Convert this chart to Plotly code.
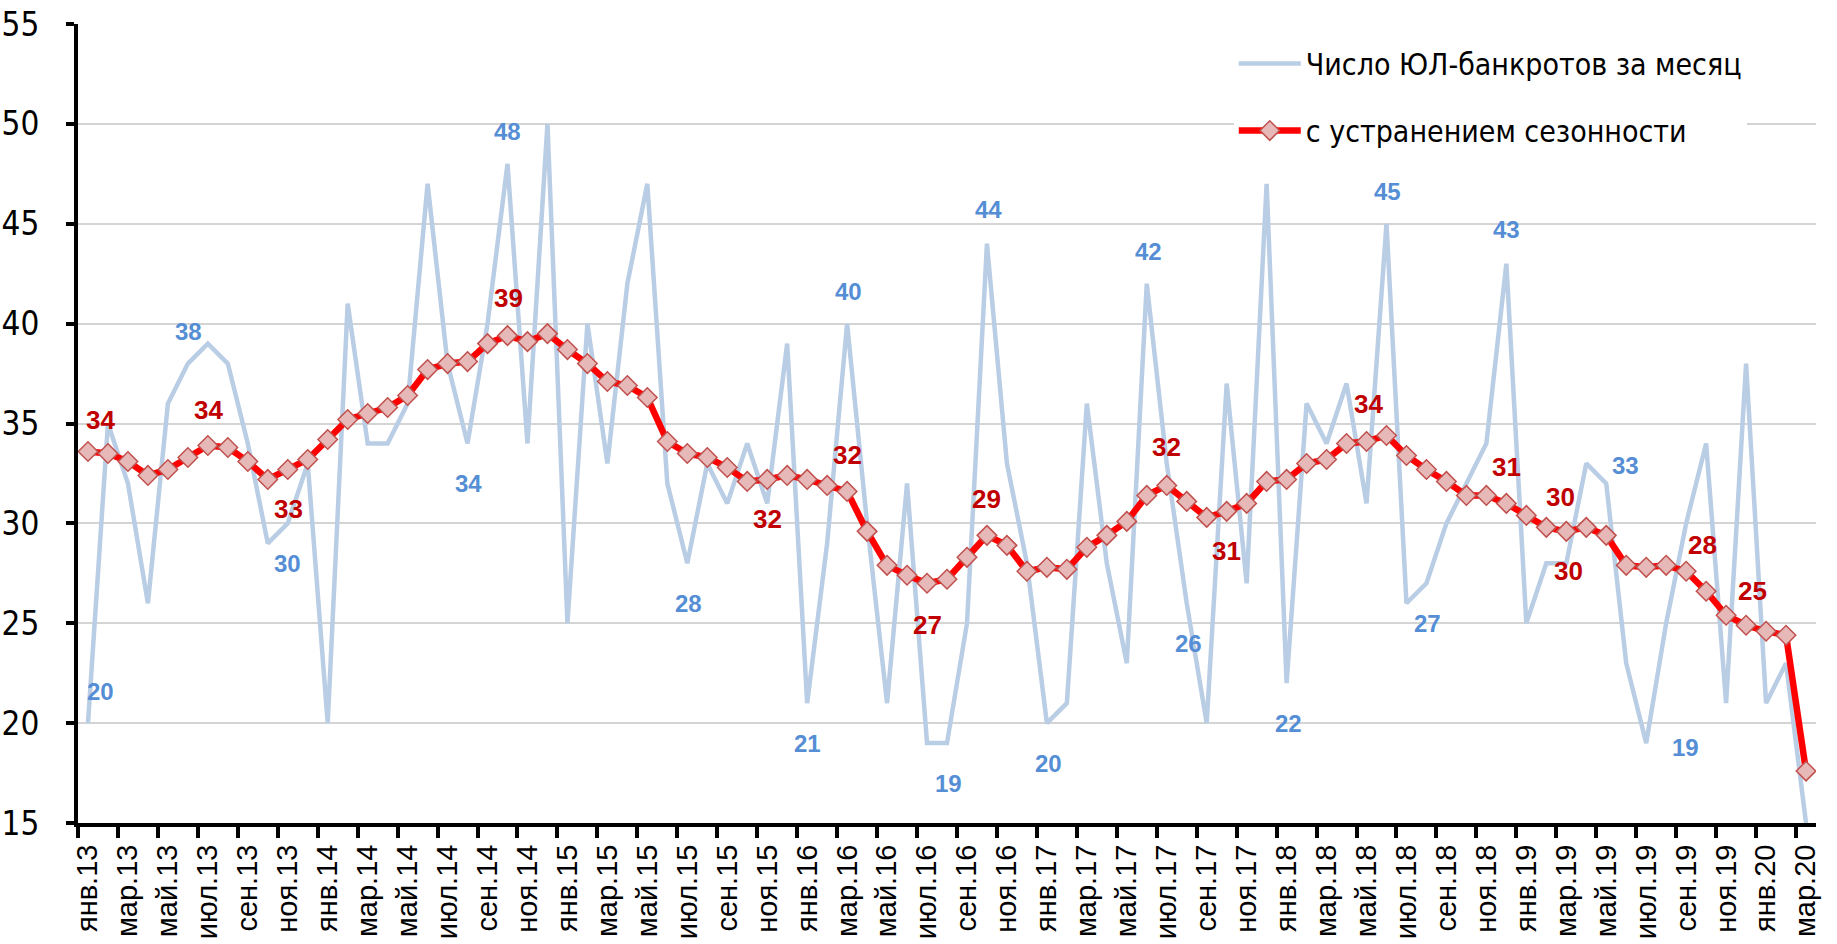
import math
import plotly.graph_objects as go

# ---------------- data ----------------
months = ['янв', 'фев', 'мар', 'апр', 'май', 'июн', 'июл', 'авг', 'сен', 'окт', 'ноя', 'дек']
categories = [f"{m}.{y}" for y in range(13, 21) for m in months][:87]

# monthly number of bankrupt legal entities
monthly = [20, 35, 32, 26, 36, 38, 39, 38, 34, 29, 30, 33,
           20, 41, 34, 34, 36, 47, 38, 34, 40, 48, 34, 50,
           25, 40, 33, 42, 47, 32, 28, 33, 31, 34, 31, 39,
           21, 29, 40, 30, 21, 32, 19, 19, 25, 44, 33, 28,
           20, 21, 36, 28, 23, 42, 33, 26, 20, 37, 27, 47,
           22, 36, 34, 37, 31, 45, 26, 27, 30, 32, 34, 43,
           25, 28, 28, 33, 32, 23, 19, 25, 30, 34, 21, 38,
           21, 23, 15]

# seasonally adjusted
adjusted = [33.6, 33.5, 33.1, 32.4, 32.7, 33.3, 33.9, 33.8, 33.1, 32.2, 32.7, 33.2,
            34.2, 35.2, 35.5, 35.8, 36.4, 37.7, 38.0, 38.1, 39.0, 39.4, 39.1, 39.5,
            38.7, 38.0, 37.1, 36.9, 36.3, 34.1, 33.5, 33.3, 32.8, 32.1, 32.2, 32.4,
            32.2, 31.9, 31.6, 29.6, 27.9, 27.4, 27.0, 27.2, 28.3, 29.4, 28.9, 27.6,
            27.8, 27.7, 28.8, 29.4, 30.1, 31.4, 31.9, 31.1, 30.3, 30.6, 31.0, 32.1,
            32.2, 33.0, 33.2, 34.0, 34.1, 34.4, 33.4, 32.7, 32.1, 31.4, 31.4, 31.0,
            30.4, 29.8, 29.6, 29.8, 29.4, 27.9, 27.8, 27.9, 27.6, 26.6, 25.4, 24.9,
            24.6, 24.4, 17.6]

series_names = ['Число ЮЛ-банкротов за месяц', 'с устранением сезонности']

y_ticks = [15, 20, 25, 30, 35, 40, 45, 50, 55]

# which points carry a value label
blue_label_idx = [0, 5, 10, 19, 21, 30, 36, 38, 43, 45, 48, 53, 55, 60, 65, 67, 71, 75, 78]
red_label_idx = [0, 6, 10, 21, 34, 38, 42, 45, 54, 57, 64, 71, 73, 74, 80, 83, 85, 86]

# label placement (category index, axis value) as seen in the chart
blue_label_x = [0.65, 5.03, 10.0, 19.07, 21.0, 30.07, 36.03, 38.07, 43.07, 45.07, 48.07,
                53.07, 55.07, 60.07, 65.07, 67.07, 71.0, 76.95, 79.95]
blue_label_y = [21.6, 39.6, 28.0, 32.0, 49.6, 26.0, 19.0, 41.6, 17.0, 45.7, 18.0,
                43.6, 24.0, 20.0, 46.6, 25.0, 44.7, 32.9, 18.8]
red_label_x = [0.62, 6.03, 10.03, 21.03, 34.0, 38.0, 42.0, 45.0, 54.0, 57.0, 64.1,
               71.0, 73.7, 74.1, 80.8, 83.3, 86.65, 86.65]
red_label_y = [35.2, 35.7, 30.7, 41.3, 30.2, 33.4, 24.9, 31.2, 33.8, 28.6, 36.0,
               32.8, 31.3, 27.6, 28.9, 26.6, 24.2, 16.6]

# ---------------- styles ----------------
COND = "DejaVu Sans Condensed, Liberation Sans Narrow, Arial Narrow, sans-serif"
REG = "Liberation Sans, Arial, sans-serif"
BLUE_LINE = "#B9CDE5"
BLUE_TXT = "#558ED5"
RED_LINE = "#FF0000"
RED_TXT = "#C00000"

x_idx = list(range(len(categories)))


def fmt(v):
    return str(int(math.floor(v + 0.5)))


fig = go.Figure()
fig.add_trace(go.Scatter(
    x=x_idx, y=monthly, name=series_names[0], mode="lines",
    line=dict(color=BLUE_LINE, width=4.5), legendgroup="a",
))
fig.add_trace(go.Scatter(
    x=x_idx, y=adjusted, name=series_names[1], mode="lines+markers",
    line=dict(color=RED_LINE, width=6.5),
    marker=dict(symbol="diamond", size=15, color="#E6B9B8",
                line=dict(color="#C0504D", width=1.5)),
    legendgroup="b",
))

annotations = []
for i, lx, ly in zip(blue_label_idx, blue_label_x, blue_label_y):
    annotations.append(dict(x=lx, y=ly, xref="x", yref="y", text=fmt(monthly[i]),
                            showarrow=False,
                            font=dict(family=REG, size=24, color=BLUE_TXT, weight="bold")))
for i, lx, ly in zip(red_label_idx, red_label_x, red_label_y):
    annotations.append(dict(x=lx, y=ly, xref="x", yref="y", text=fmt(adjusted[i]),
                            showarrow=False,
                            font=dict(family=REG, size=26, color=RED_TXT, weight="bold")))

n = len(categories)
fig.update_layout(
    width=1837, height=944,
    margin=dict(l=78, r=21, t=24, b=121),
    paper_bgcolor="white", plot_bgcolor="white",
    annotations=annotations,
    showlegend=True,
    legend=dict(
        x=0.665, y=0.983, xanchor="left", yanchor="top",
        bgcolor="white", borderwidth=0,
        font=dict(family=COND, size=30, color="black"),
        traceorder="grouped", tracegroupgap=25,
        itemwidth=62,
    ),
    xaxis=dict(
        range=[-0.5, n - 0.5],
        automargin=False,
        tickmode="array",
        tickvals=x_idx[::2],
        ticktext=categories[::2],
        ticks="",
        tickangle=-90,
        tickfont=dict(family=REG, size=29, color="black"),
        ticklabelstandoff=6,
        showline=True, linecolor="black", linewidth=4,
        showgrid=False, zeroline=False,
        minor=dict(tickmode="array",
                   tickvals=[k - 0.5 for k in range(0, n, 2)],
                   ticks="outside", ticklen=11, tickwidth=4, tickcolor="black",
                   showgrid=False),
    ),
    yaxis=dict(
        range=[15, 55],
        automargin=False,
        tickmode="array", tickvals=y_ticks,
        ticks="outside", ticklen=8, tickwidth=4, tickcolor="black",
        tickfont=dict(family=COND, size=33, color="black"),
        ticklabelstandoff=20,
        showline=True, linecolor="black", linewidth=4,
        showgrid=True, gridcolor="#D4D4D4", gridwidth=2,
        zeroline=False,
    ),
)

fig.write_html("out.html", config={"displayModeBar": False},
               post_script="document.body.style.margin='0';")
